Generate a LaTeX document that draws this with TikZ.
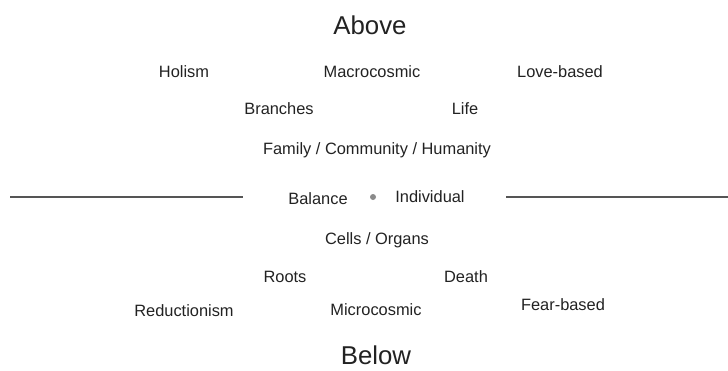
\documentclass[tikz,border=0pt]{standalone}
\usepackage{fontspec}
\setmainfont{Liberation Sans}
\definecolor{inkgray}{HTML}{222222}
\definecolor{linegray}{HTML}{555555}
\definecolor{dotgray}{HTML}{8A8A8A}
\tikzset{
  word/.style={text=inkgray, inner sep=0pt, font=\fontsize{16.4}{19}\selectfont},
  pole/.style={text=inkgray, inner sep=0pt, font=\fontsize{25.8}{30}\selectfont}
}
\begin{document}
\begin{tikzpicture}[x=1pt,y=-1pt]
  \useasboundingbox (0,0) rectangle (728,370);
  \def\midy{197};
  % the two poles
  \node[pole] (above) at (370,25) {Above};
  \node[pole] (below) at (376,355) {Below};
  % upper half
  \node[word] (holism) at (184,72) {Holism};
  \node[word] (macro) at (372,72) {Macrocosmic};
  \node[word] (love) at (560,72) {Love-based};
  \node[word] (branches) at (279,109) {Branches};
  \node[word] (life) at (465,109) {Life};
  \node[word] (family) at (377,150) {Family / Community / Humanity};
  % middle row
  \node[word] (balance) at (318,199) {Balance};
  \node[word] (individual) at (430,197) {Individual};
  \fill[dotgray] (373,\midy) circle (3) coordinate (centre);
  \coordinate (leftA) at (10,\midy);
  \coordinate (leftB) at (243,\midy);
  \coordinate (rightA) at (506,\midy);
  \coordinate (rightB) at (728,\midy);
  \draw[linegray, line width=1.3pt] (leftA) -- (leftB);
  \draw[linegray, line width=1.3pt] (rightA) -- (rightB);
  % lower half
  \node[word] (cells) at (377,240) {Cells / Organs};
  \node[word] (roots) at (285,277) {Roots};
  \node[word] (death) at (466,277) {Death};
  \node[word] (reduction) at (184,311) {Reductionism};
  \node[word] (micro) at (376,310) {Microcosmic};
  \node[word] (fear) at (563,305) {Fear-based};
\end{tikzpicture}
\end{document}
